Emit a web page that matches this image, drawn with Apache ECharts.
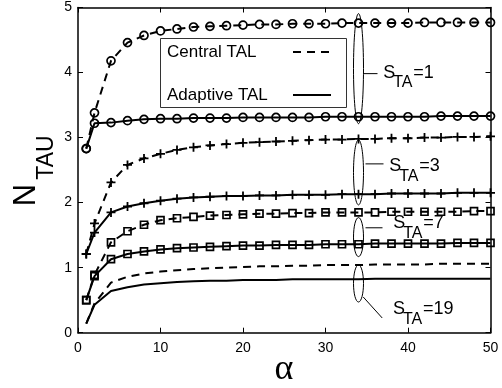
<!DOCTYPE html>
<html>
<head>
<meta charset="utf-8">
<script src="https://cdn.jsdelivr.net/npm/echarts@6/dist/echarts.min.js"></script>
<style>
html, body { margin: 0; padding: 0; background: #fff; }
#chart { width: 502px; height: 388px; }
</style>
</head>
<body>
<div id="chart"></div>
<script>
// alpha values where the curves were sampled
const alpha = [1, 2, 4, 6, 8, 10, 12, 14, 16, 18, 20, 22, 24, 26, 28, 30, 32, 34, 36, 38, 40, 42, 44, 46, 48, 50];

// N_TAU, central TAL (dashed) and adaptive TAL (solid) for each S_TA
const central1 = [2.83, 3.38, 4.18, 4.46, 4.57, 4.64, 4.67, 4.70, 4.71, 4.72, 4.73, 4.74, 4.74, 4.75, 4.75, 4.75, 4.76, 4.76, 4.76, 4.76, 4.76, 4.77, 4.77, 4.77, 4.77, 4.77];
const adaptive1 = [2.83, 3.22, 3.23, 3.26, 3.28, 3.29, 3.29, 3.30, 3.30, 3.30, 3.31, 3.31, 3.31, 3.31, 3.31, 3.32, 3.32, 3.32, 3.32, 3.32, 3.32, 3.32, 3.33, 3.33, 3.33, 3.33];
const central3 = [1.21, 1.68, 2.31, 2.58, 2.68, 2.75, 2.81, 2.85, 2.88, 2.90, 2.92, 2.93, 2.94, 2.95, 2.96, 2.97, 2.97, 2.98, 2.98, 2.99, 2.99, 3.00, 3.00, 3.01, 3.01, 3.02];
const adaptive3 = [1.21, 1.54, 1.85, 1.94, 1.99, 2.03, 2.06, 2.08, 2.09, 2.10, 2.10, 2.11, 2.11, 2.12, 2.12, 2.12, 2.13, 2.13, 2.13, 2.14, 2.14, 2.14, 2.14, 2.15, 2.15, 2.15];
const central7 = [0.50, 0.89, 1.39, 1.56, 1.66, 1.73, 1.76, 1.78, 1.80, 1.81, 1.82, 1.83, 1.83, 1.84, 1.84, 1.85, 1.85, 1.85, 1.85, 1.86, 1.86, 1.86, 1.86, 1.86, 1.87, 1.87];
const adaptive7 = [0.50, 0.87, 1.13, 1.21, 1.25, 1.28, 1.30, 1.31, 1.32, 1.33, 1.34, 1.34, 1.35, 1.35, 1.35, 1.36, 1.36, 1.36, 1.37, 1.37, 1.37, 1.37, 1.37, 1.38, 1.38, 1.38];
const central19 = [0.14, 0.45, 0.77, 0.86, 0.91, 0.94, 0.96, 0.98, 0.99, 1.00, 1.01, 1.02, 1.02, 1.03, 1.03, 1.04, 1.04, 1.04, 1.05, 1.05, 1.05, 1.05, 1.06, 1.06, 1.06, 1.06];
const adaptive19 = [0.14, 0.43, 0.64, 0.70, 0.74, 0.76, 0.78, 0.79, 0.80, 0.80, 0.81, 0.81, 0.81, 0.82, 0.82, 0.82, 0.82, 0.82, 0.83, 0.83, 0.83, 0.83, 0.83, 0.83, 0.83, 0.83];

const xTicks = [0, 10, 20, 30, 40, 50];
const yTicks = [0, 1, 2, 3, 4, 5];
const legendNames = ['Central TAL', 'Adaptive TAL'];

// annotation ellipses (data coords) and their labels
const annX = 34;
const annY = [4.06, 2.465, 1.47, 0.757];
const annRy = [0.846, 0.5, 0.30, 0.285];
const annLabel = ['=1', '=3', '=7', '=19'];

const FONT = '"Liberation Sans", Arial, sans-serif';
const DASH = [8, 6];
const PLUS = 'path://M4,0H6V4H10V6H6V10H4V6H0V4H4Z';

function pts(ys) {
	return alpha.map(function (x, i) { return [x, ys[i]]; });
}

function curve(ys, dashed, marker) {
	let s = {
		type: 'line',
		data: pts(ys),
		showAllSymbol: true,
		symbol: 'none',
		lineStyle: { color: '#000', width: 2, type: dashed ? DASH : 'solid' },
		emphasis: { disabled: true },
		z: 3
	};
	if (marker == 'circle') {
		s.symbol = 'circle';
		s.symbolSize = 8;
		s.itemStyle = { color: 'transparent', borderColor: '#000', borderWidth: 1.7 };
	} else if (marker == 'square') {
		s.symbol = 'rect';
		s.symbolSize = 7;
		s.itemStyle = { color: 'transparent', borderColor: '#000', borderWidth: 1.7 };
	} else if (marker == 'plus') {
		s.symbol = PLUS;
		s.symbolSize = 9;
		s.itemStyle = { color: '#000', borderWidth: 0 };
	}
	return s;
}

let chart = echarts.init(document.getElementById('chart'));

let axisCommon = {
	type: 'value',
	axisLine: { show: true, onZero: false, lineStyle: { color: '#000', width: 1.5 } },
	axisTick: { show: true, inside: true, length: 5, lineStyle: { color: '#000', width: 1 } },
	splitLine: { show: false },
	axisLabel: { color: '#000', fontSize: 14, fontFamily: FONT }
};

let option = {
	animation: false,
	backgroundColor: '#fff',
	grid: { left: 78, right: 11.5, top: 7.5, bottom: 55.3, outerBoundsMode: 'none' },
	xAxis: [
		Object.assign({}, axisCommon, { position: 'bottom', min: 0, max: 50, interval: 10,
			axisLabel: Object.assign({}, axisCommon.axisLabel, { margin: 8, formatter: function (v) { return xTicks.indexOf(v) >= 0 ? String(v) : ''; } }) }),
		Object.assign({}, axisCommon, { position: 'top', min: 0, max: 50, interval: 10, axisLabel: { show: false } })
	],
	yAxis: [
		Object.assign({}, axisCommon, { position: 'left', min: 0, max: 5, interval: 1,
			axisLabel: Object.assign({}, axisCommon.axisLabel, { margin: 6, formatter: function (v) { return yTicks.indexOf(v) >= 0 ? String(v) : ''; } }) }),
		Object.assign({}, axisCommon, { position: 'right', min: 0, max: 5, interval: 1, axisLabel: { show: false } })
	],
	series: [
		curve(central1, true, 'circle'),
		curve(adaptive1, false, 'circle'),
		curve(central3, true, 'plus'),
		curve(adaptive3, false, 'plus'),
		curve(central7, true, 'square'),
		curve(adaptive7, false, 'square'),
		curve(central19, true, null),
		curve(adaptive19, false, null)
	]
};
chart.setOption(option);

// leader lines [dx1, dy1, dx2, dy2] and label start [dx, dy] relative to ellipse centre, px
const leader = [[5, 5, 19, 5], [7, -8.5, 25, -8.5], [7, -9.3, 24, -9.3], [4.7, 13.5, 23.7, 34.5]];
const labelAt = [[24.7, 4.3], [30.7, -6], [34.7, -13.8], [34.4, 26]];

function txt(text, x, y, size, align, extra) {
	return Object.assign({
		type: 'text', x: x, y: y, z: 10,
		style: { text: text, fontSize: size, fontFamily: FONT, fill: '#000',
			align: align, verticalAlign: 'middle', textAlign: align, textVerticalAlign: 'middle' }
	}, extra || {});
}

let graphics = [];
annY.forEach(function (y, i) {
	let c = chart.convertToPixel({ gridIndex: 0 }, [annX, y]);
	let top = chart.convertToPixel({ gridIndex: 0 }, [annX, y + annRy[i]]);
	let ry = c[1] - top[1];
	graphics.push({ type: 'ellipse', z: 10, shape: { cx: c[0], cy: c[1], rx: 5, ry: ry },
		style: { fill: 'none', stroke: '#000', lineWidth: 1 } });
	let l = leader[i];
	graphics.push({ type: 'line', z: 10, shape: { x1: c[0] + l[0], y1: c[1] + l[1], x2: c[0] + l[2], y2: c[1] + l[3] },
		style: { stroke: '#000', lineWidth: 1 } });
	let tx = c[0] + labelAt[i][0], ty = c[1] + labelAt[i][1];
	graphics.push(txt('S', tx, ty, 18, 'left'));
	graphics.push(txt('TA', tx + 10, ty + 10, 16, 'left'));
	graphics.push(txt(annLabel[i], tx + 30, ty, 18, 'left'));
});

// legend box
graphics.push({ type: 'rect', z: 9, shape: { x: 160.5, y: 38.5, width: 186, height: 69 },
	style: { fill: '#fff', stroke: '#333', lineWidth: 1 } });
graphics.push(txt(legendNames[0], 167, 52, 17, 'left'));
graphics.push(txt(legendNames[1], 167, 95, 17, 'left'));
graphics.push({ type: 'line', z: 10, shape: { x1: 293, y1: 52, x2: 331, y2: 52 },
	style: { stroke: '#000', lineWidth: 2, lineDash: DASH } });
graphics.push({ type: 'line', z: 10, shape: { x1: 293, y1: 95, x2: 331, y2: 95 },
	style: { stroke: '#000', lineWidth: 2.2 } });

// axis titles
graphics.push(txt('N', 26, 195, 31, 'center', { rotation: Math.PI / 2 }));
graphics.push(txt('TAU', 46.5, 157.5, 23, 'center', { rotation: Math.PI / 2 }));
let alphaLabel = txt('\u03b1', 284, 370, 36, 'center');
alphaLabel.style.fontFamily = '"Liberation Serif", "DejaVu Serif", serif';
graphics.push(alphaLabel);

chart.setOption({ graphic: graphics });
</script>
</body>
</html>
